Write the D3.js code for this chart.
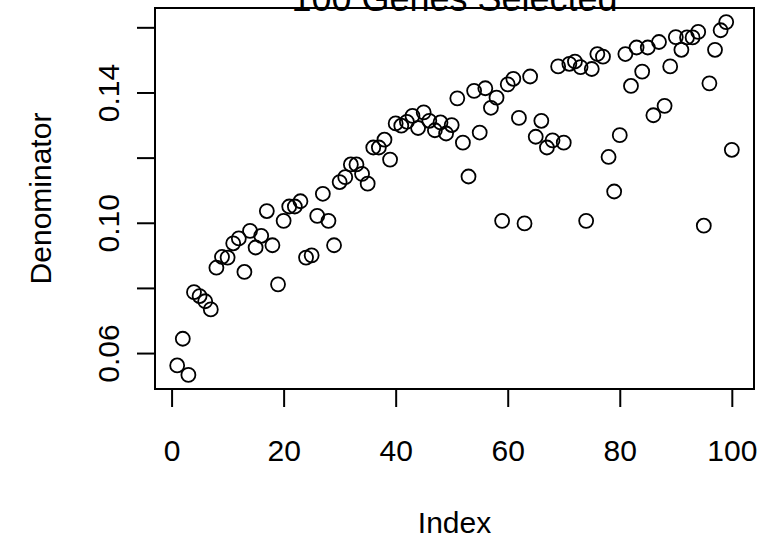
<!DOCTYPE html>
<html>
<head>
<meta charset="utf-8">
<script src="https://cdn.jsdelivr.net/npm/d3@7"></script>
<style>
  body { margin: 0; background: #fff; }
  text { font-family: "Liberation Sans", Arial, sans-serif; fill: #000; }
</style>
</head>
<body>
<div id="chart"></div>
<script>
// values, index 1..100
const denominator = [
  0.0562, 0.0644, 0.0533, 0.0787, 0.0775, 0.0759, 0.0734, 0.0862, 0.0895, 0.0893,
  0.0937, 0.0952, 0.0849, 0.0975, 0.0924, 0.0960, 0.1036, 0.0931, 0.0811, 0.1006,
  0.1050, 0.1050, 0.1066, 0.0893, 0.0900, 0.1021, 0.1089, 0.1006, 0.0931, 0.1125,
  0.1140, 0.1179, 0.1179, 0.1150, 0.1120, 0.1231, 0.1231, 0.1255, 0.1194, 0.1305,
  0.1298, 0.1310, 0.1328, 0.1291, 0.1339, 0.1313, 0.1284, 0.1308, 0.1274, 0.1300,
  0.1382, 0.1246, 0.1142, 0.1405, 0.1277, 0.1413, 0.1353, 0.1384, 0.1006, 0.1425,
  0.1442, 0.1322, 0.0998, 0.1449, 0.1264, 0.1313, 0.1231, 0.1253, 0.1480, 0.1246,
  0.1488, 0.1495, 0.1478, 0.1006, 0.1472, 0.1518, 0.1510, 0.1202, 0.1096, 0.1269,
  0.1518, 0.1420, 0.1538, 0.1464, 0.1538, 0.1330, 0.1555, 0.1359, 0.1480, 0.1570,
  0.1531, 0.1569, 0.1569, 0.1586, 0.0991, 0.1428, 0.1531, 0.1591, 0.1616, 0.1224
];
const xTicks = [0, 20, 40, 60, 80, 100];
const yTicks = [0.06, 0.08, 0.10, 0.12, 0.14, 0.16];
const yTickLabels = ["0.06", "", "0.10", "", "0.14", ""];

const titleText = "100 Genes Selected";
const xLabel = "Index";
const yLabel = "Denominator";

const W = 771, H = 540;
const margin = { top: 8, right: 17, bottom: 151, left: 155 };
const width = W - margin.left - margin.right;
const height = H - margin.top - margin.bottom;
const line = 36;   // one R margin line in px
const fs = 30;

const data = denominator.map((v, i) => ({ index: i + 1, value: v }));

// R style 4% extension of the data range
const xr = d3.extent(data, d => d.index);
const yr = d3.extent(data, d => d.value);
const xPad = (xr[1] - xr[0]) * 0.04, yPad = (yr[1] - yr[0]) * 0.04;

const x = d3.scaleLinear().domain([xr[0] - xPad, xr[1] + xPad]).range([0, width]);
const y = d3.scaleLinear().domain([yr[0] - yPad, yr[1] + yPad]).range([height, 0]);

const svg = d3.select("#chart")
    .append("svg")
    .attr("width", W)
    .attr("height", H)
    .append("g")
    .attr("transform", `translate(${margin.left}, ${margin.top})`);

// x axis
const xAxis = svg.append("g")
    .attr("transform", `translate(0, ${height})`)
    .call(d3.axisBottom(x).tickValues(xTicks).tickSize(line * 0.5));
xAxis.select(".domain")
    .attr("d", `M${x(xTicks[0])},0H${x(xTicks[xTicks.length - 1])}`)
    .attr("stroke-width", 2);
xAxis.selectAll(".tick line").attr("stroke-width", 2);
xAxis.selectAll(".tick text")
    .attr("font-size", fs)
    .attr("fill", "#000")
    .attr("y", line * 2)
    .attr("dy", null);

// y axis
const yAxis = svg.append("g")
    .call(d3.axisLeft(y).tickValues(yTicks).tickSize(line * 0.5).tickFormat((d, i) => yTickLabels[i]));
yAxis.select(".domain")
    .attr("d", `M0,${y(yTicks[0])}V${y(yTicks[yTicks.length - 1])}`)
    .attr("stroke-width", 2);
yAxis.selectAll(".tick line").attr("stroke-width", 2);
yAxis.selectAll(".tick text")
    .attr("font-size", fs)
    .attr("fill", "#000")
    .attr("x", null)
    .attr("dy", null)
    .attr("text-anchor", "middle")
    .attr("transform", `translate(${-line}, 0) rotate(-90)`);

// plot box
svg.append("rect")
    .attr("width", width)
    .attr("height", height)
    .attr("fill", "none")
    .attr("stroke", "#000")
    .attr("stroke-width", 2);

// points
svg.selectAll("circle.pt")
    .data(data)
    .enter()
    .append("circle")
    .attr("class", "pt")
    .attr("cx", d => x(d.index))
    .attr("cy", d => y(d.value))
    .attr("r", 7)
    .attr("fill", "none")
    .attr("stroke", "#000")
    .attr("stroke-width", 1.8);

// titles
svg.append("text")
    .attr("x", width / 2)
    .attr("y", 3)
    .attr("text-anchor", "middle")
    .attr("font-size", fs * 1.2)
    .text(titleText);

svg.append("text")
    .attr("x", width / 2)
    .attr("y", height + line * 4)
    .attr("text-anchor", "middle")
    .attr("font-size", fs)
    .text(xLabel);

svg.append("text")
    .attr("transform", `translate(${-line * 2.9}, ${height / 2}) rotate(-90)`)
    .attr("text-anchor", "middle")
    .attr("font-size", fs)
    .text(yLabel);
</script>
</body>
</html>
